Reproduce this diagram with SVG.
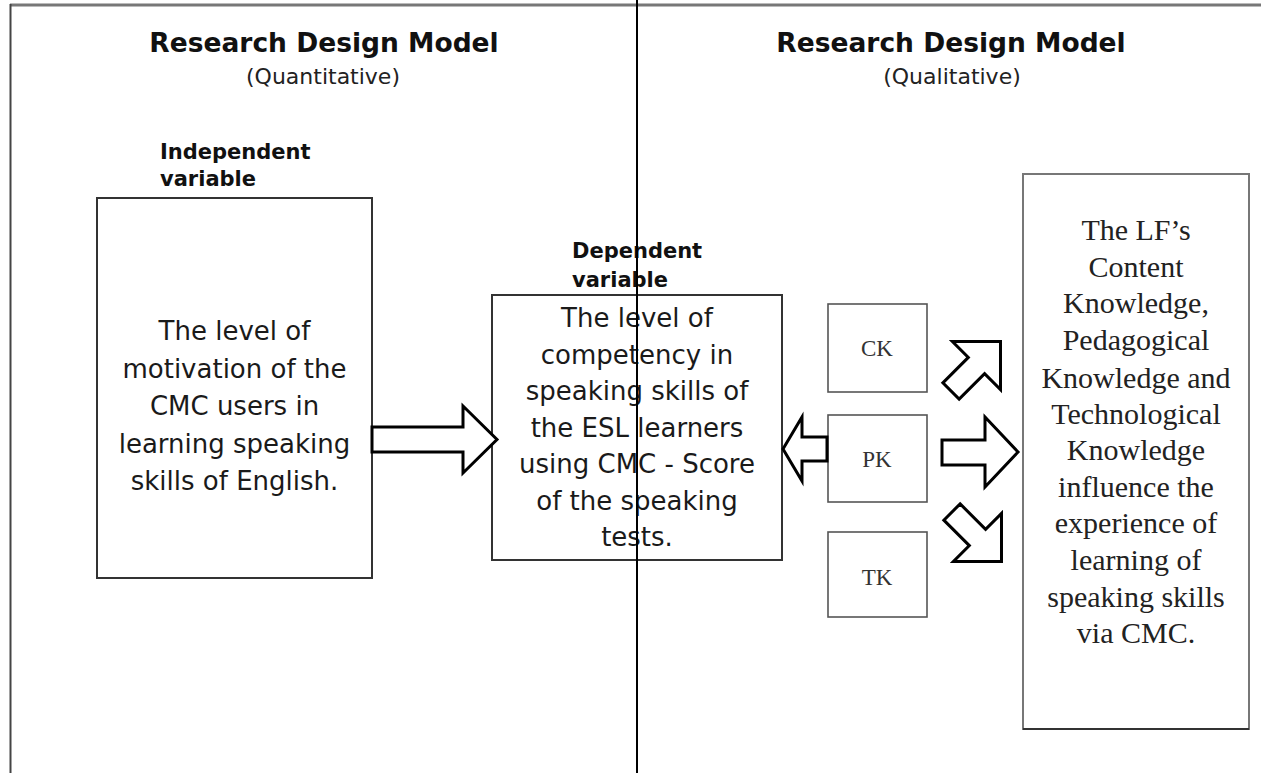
<svg xmlns="http://www.w3.org/2000/svg" width="1261" height="773" viewBox="0 0 1261 773">
<style>
.title{font-family:"DejaVu Sans",Verdana,sans-serif;font-weight:bold;font-size:26.5px;fill:#111;text-anchor:middle}
.sub{font-family:"DejaVu Sans",Verdana,sans-serif;font-size:22px;fill:#222;text-anchor:middle}
.lab{font-family:"DejaVu Sans",Verdana,sans-serif;font-weight:bold;font-size:21px;fill:#111}
.body{font-family:"DejaVu Sans",Verdana,sans-serif;font-size:26px;fill:#1a1a1a;text-anchor:middle}
.serif{font-family:"Liberation Serif","Times New Roman",serif;font-size:30px;fill:#222;text-anchor:middle}
.small{font-family:"Liberation Serif","Times New Roman",serif;font-size:23px;fill:#333;text-anchor:middle}
.box{fill:#fff;stroke:#333;stroke-width:2}
.kbox{fill:#fff;stroke:#555;stroke-width:1.6}
.arrow{fill:#fff;stroke:#000;stroke-width:3;stroke-linejoin:miter}
</style>
<rect width="1261" height="773" fill="#fff"/>
<g id="frame">
<line x1="10" y1="5" x2="1261" y2="5" stroke="#777" stroke-width="3"/>
<line x1="10.5" y1="4" x2="10.5" y2="773" stroke="#444" stroke-width="2"/>
</g>
<g id="titles">
<text class="title" x="324" y="52">Research Design Model</text>
<text class="sub" x="323" y="84">(Quantitative)</text>
<text class="title" x="951" y="52">Research Design Model</text>
<text class="sub" x="952" y="84">(Qualitative)</text>
</g>
<g id="independent">
<text class="lab" x="160" y="159">Independent</text>
<text class="lab" x="160" y="186">variable</text>
<rect class="box" x="97" y="198" width="275" height="380"/>
<text class="body" x="234.5" y="340">The level of</text>
<text class="body" x="234.5" y="377.5">motivation of the</text>
<text class="body" x="234.5" y="415">CMC users in</text>
<text class="body" x="234.5" y="452.5">learning speaking</text>
<text class="body" x="234.5" y="490">skills of English.</text>
</g>
<g id="dependent">
<text class="lab" x="572" y="258">Dependent</text>
<text class="lab" x="572" y="287">variable</text>
<rect class="box" x="492" y="295" width="290" height="265"/>
<text class="body" x="637" y="327">The level of</text>
<text class="body" x="637" y="363.5">competency in</text>
<text class="body" x="637" y="400">speaking skills of</text>
<text class="body" x="637" y="436.5">the ESL learners</text>
<text class="body" x="637" y="473">using CMC - Score</text>
<text class="body" x="637" y="509.5">of the speaking</text>
<text class="body" x="637" y="546">tests.</text>
</g>
<g id="ck">
<rect class="kbox" x="828" y="304" width="99" height="88"/>
<text class="small" x="877" y="356">CK</text>
</g>
<g id="pk">
<rect class="kbox" x="828" y="415" width="99" height="87"/>
<text class="small" x="877" y="467">PK</text>
</g>
<g id="tk">
<rect class="kbox" x="828" y="532" width="99" height="85"/>
<text class="small" x="877" y="585">TK</text>
</g>
<g id="tpack">
<rect x="1023" y="174" width="226" height="555" fill="#fff" stroke="#777" stroke-width="2"/>
<line x1="1023" y1="729" x2="1249" y2="729" stroke="#333" stroke-width="2"/>
<text class="serif" x="1136" y="240">The LF’s</text>
<text class="serif" x="1136" y="277">Content</text>
<text class="serif" x="1136" y="313">Knowledge,</text>
<text class="serif" x="1136" y="350">Pedagogical</text>
<text class="serif" x="1136" y="388">Knowledge and</text>
<text class="serif" x="1136" y="424">Technological</text>
<text class="serif" x="1136" y="460">Knowledge</text>
<text class="serif" x="1136" y="497">influence the</text>
<text class="serif" x="1136" y="533">experience of</text>
<text class="serif" x="1136" y="570">learning of</text>
<text class="serif" x="1136" y="607">speaking skills</text>
<text class="serif" x="1136" y="643">via CMC.</text>
</g>
<g id="connectors">
<path class="arrow" d="M372,427 L463,427 L463,406 L497,439.5 L463,473 L463,452 L372,452 Z"/>
<path class="arrow" d="M827,437 L802,437 L802,417 L783,449 L802,481 L802,461 L827,461 Z"/>
<path class="arrow" d="M942,440 L985,440 L985,417 L1018,452 L985,487 L985,465 L942,465 Z"/>
<path class="arrow" transform="translate(951,391) rotate(-45)" d="M0,-11.5 L36,-11.5 L36,-34 L70,0 L36,34 L36,11.5 L0,11.5 Z"/>
<path class="arrow" transform="translate(952,512) rotate(45)" d="M0,-11.5 L36,-11.5 L36,-34 L70,0 L36,34 L36,11.5 L0,11.5 Z"/>
</g>
<g id="divider">
<line x1="637" y1="0" x2="637" y2="773" stroke="#000" stroke-width="2"/>
</g>
</svg>
